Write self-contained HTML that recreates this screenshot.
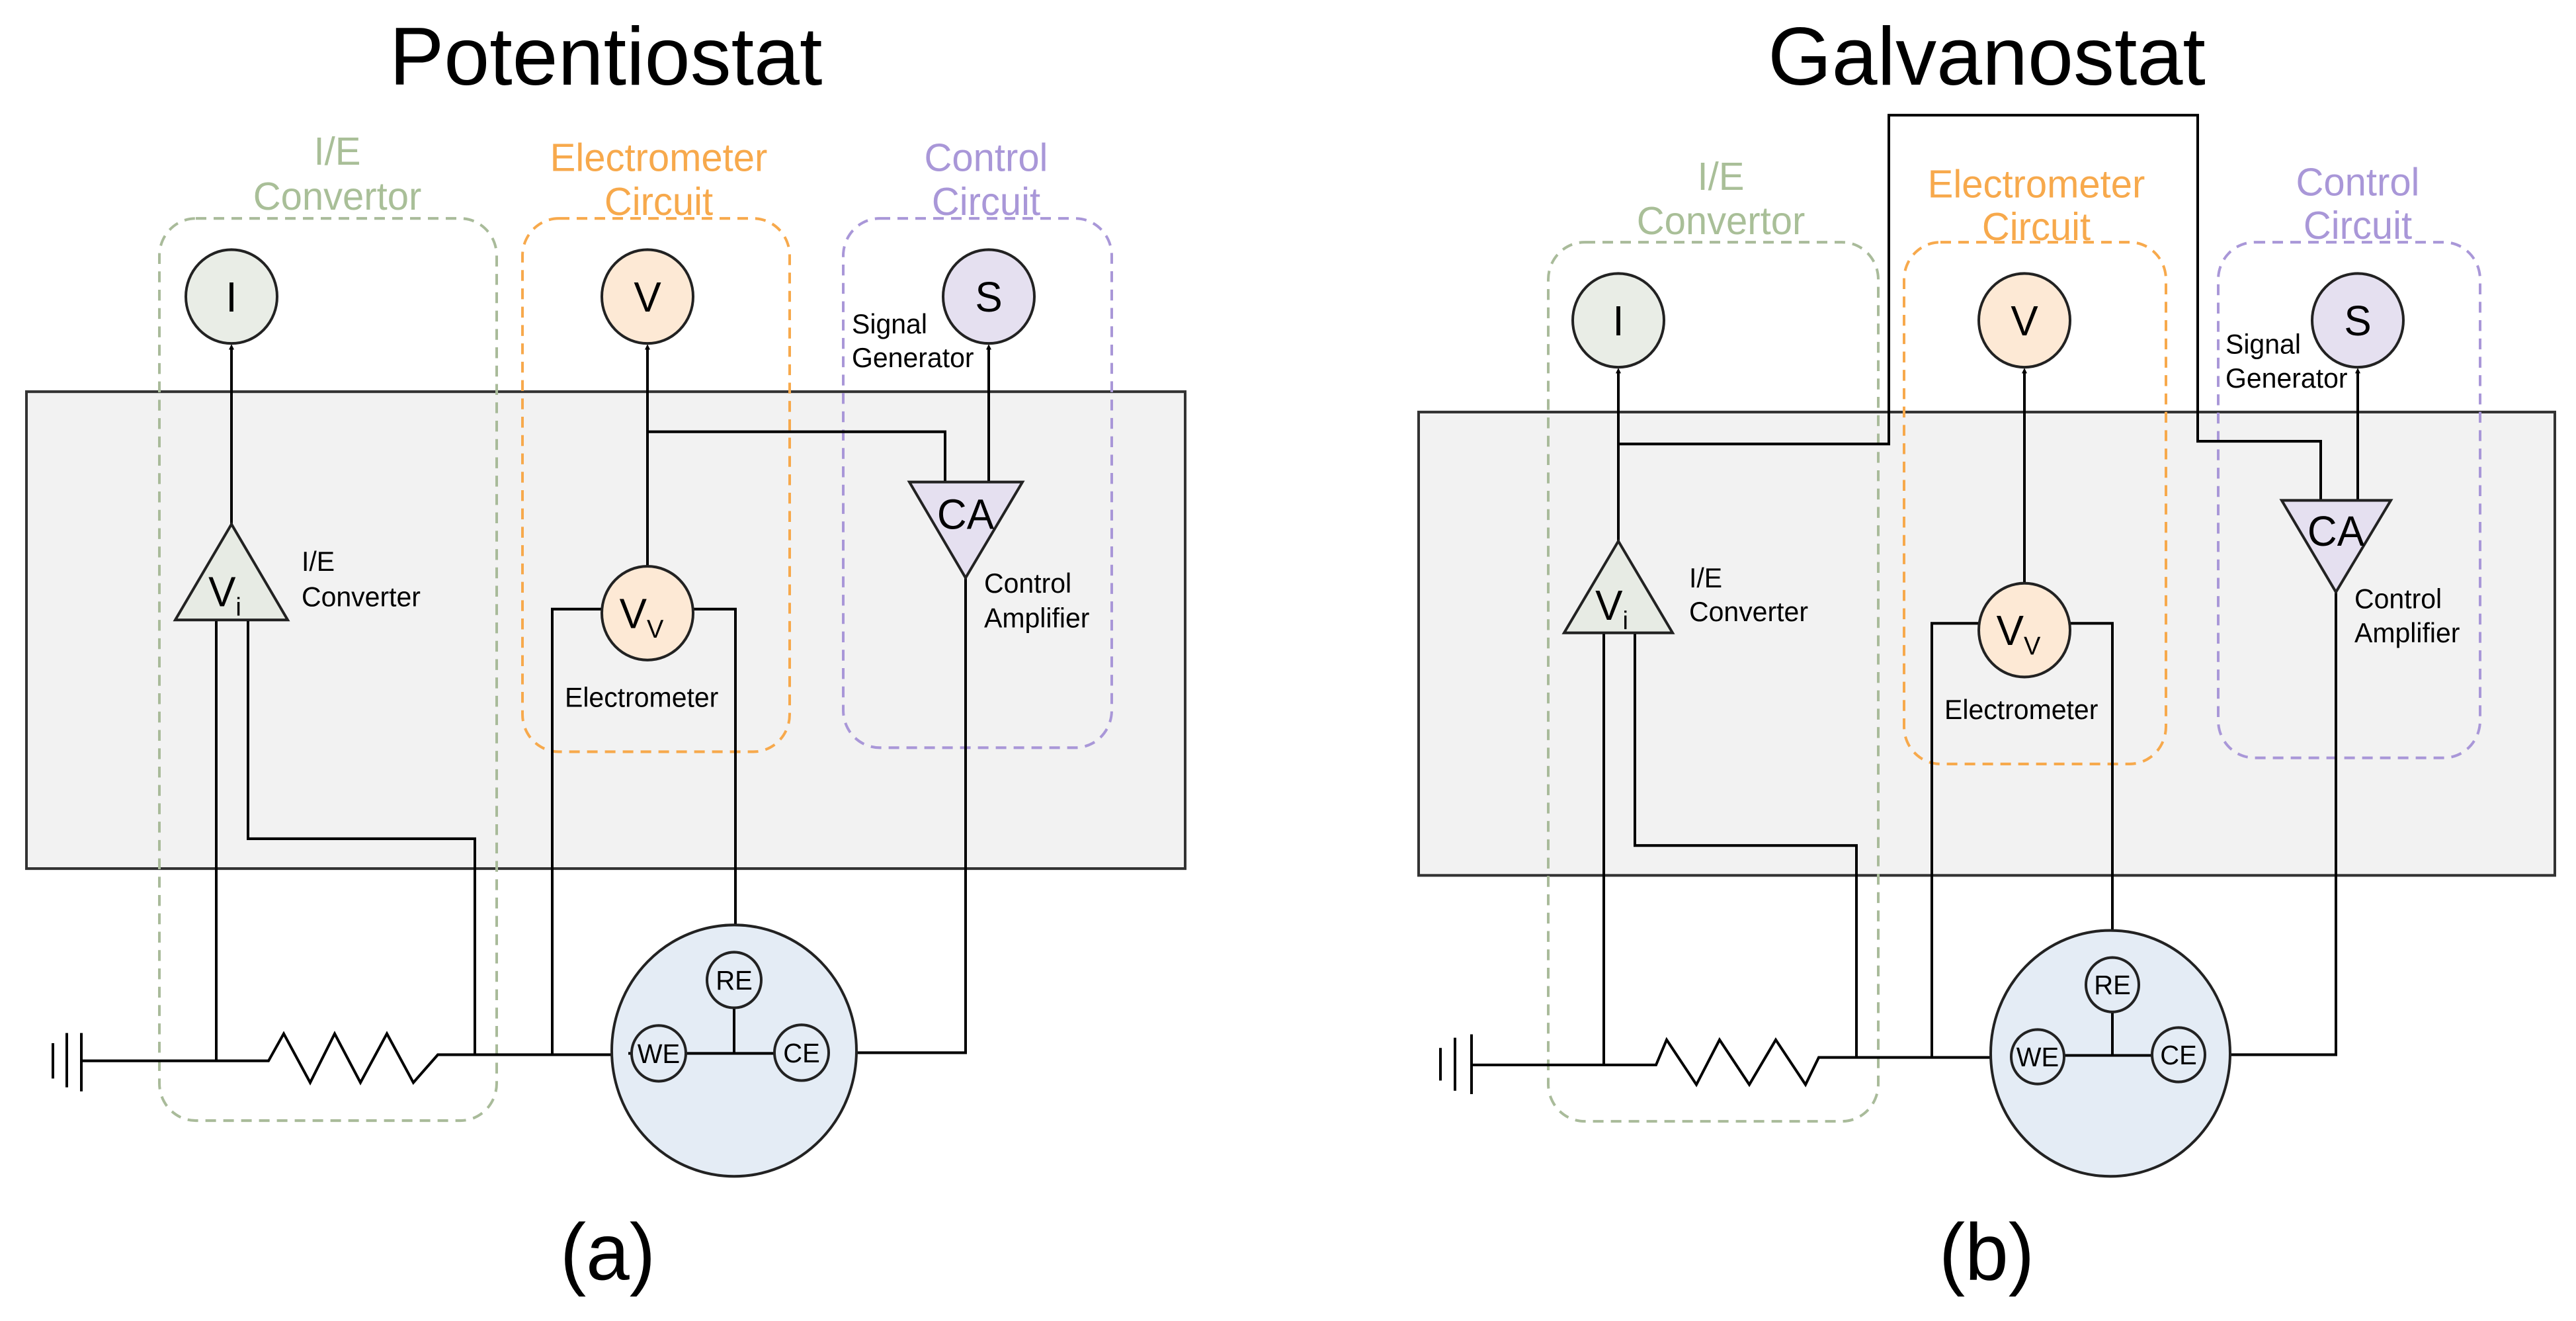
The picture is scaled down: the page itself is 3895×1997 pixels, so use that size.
<!DOCTYPE html>
<html><head><meta charset="utf-8"><style>
html,body{margin:0;padding:0;background:#fff}
svg{display:block}
text{font-family:"Liberation Sans",Arial,sans-serif}
</style></head><body>
<svg width="3895" height="1997" viewBox="0 0 3895 1997" xmlns="http://www.w3.org/2000/svg">
<defs>
<marker id="ar" markerWidth="8" markerHeight="8" refX="4" refY="4" orient="auto" markerUnits="userSpaceOnUse" viewBox="0 0 8 8">
<path d="M0,0 L8,4 L0,8 z" fill="#000"/>
</marker>
</defs>
<text x="916" y="128" font-size="124" text-anchor="middle">Potentiostat</text>
<text x="3004" y="128" font-size="124" text-anchor="middle">Galvanostat</text>
<g transform="translate(0,-9.7) scale(1,1.027)">
<!-- ============ LEFT PANEL ============ -->
<rect x="40" y="586" width="1752" height="702" fill="#f2f2f2" stroke="#333" stroke-width="4"/>
<rect x="241" y="331" width="510" height="1328" rx="55" fill="none" stroke="#a9bb9a" stroke-width="4" stroke-dasharray="16,11"/>
<rect x="790" y="331" width="404" height="785" rx="55" fill="none" stroke="#f7a94c" stroke-width="4" stroke-dasharray="16,11"/>
<rect x="1275" y="331" width="406" height="779" rx="55" fill="none" stroke="#a997d8" stroke-width="4" stroke-dasharray="16,11"/>
<g font-size="58" text-anchor="middle">
<text x="510" y="252" fill="#a9bf98">I/E</text>
<text x="510" y="318" fill="#a9bf98">Convertor</text>
<text x="996" y="261" fill="#f7a94c">Electrometer</text>
<text x="996" y="326" fill="#f7a94c">Circuit</text>
<text x="1491" y="261" fill="#a997d8">Control</text>
<text x="1491" y="326" fill="#a997d8">Circuit</text>
</g>
<g fill="none" stroke="#000" stroke-width="4">
<polyline points="350,781 350,520" marker-end="url(#ar)"/>
<polyline points="327,922 327,1571"/>
<polyline points="375,922 375,1244 718,1244 718,1562"/>
<polyline points="125,1571 406,1571 429,1531 469,1603 506,1531 545,1603 585,1531 625,1603 662,1562 1000,1562"/>
<polyline points="979,843 979,520" marker-end="url(#ar)"/>
<polyline points="979,645 1429,645 1429,719"/>
<polyline points="910,906 835,906 835,1562"/>
<polyline points="1048,906 1112,906 1112,1411"/>
<polyline points="1495,719 1495,520" marker-end="url(#ar)"/>
<polyline points="1460,860 1460,1559 1253,1559"/>
<line x1="80" y1="1545" x2="80" y2="1597"/>
<line x1="101" y1="1530" x2="101" y2="1610"/>
<line x1="123" y1="1530" x2="123" y2="1616"/>
</g>
<g stroke="#222" stroke-width="4">
<circle cx="350" cy="446" r="69" fill="#e9ede6"/>
<circle cx="979" cy="446" r="69" fill="#fde9d5"/>
<circle cx="1495" cy="446" r="69" fill="#e5e0f0"/>
<polygon points="350,781 265,922 435,922" fill="#e7ebe4"/>
<circle cx="979" cy="912" r="69" fill="#fde9d5"/>
<polygon points="1375,719 1546,719 1460,860" fill="#e5e0f0"/>
<circle cx="1110" cy="1556" r="185" fill="#e4ecf5"/>
</g>
<g fill="none" stroke="#000" stroke-width="4">
<polyline points="1110,1493 1110,1560"/>
<polyline points="950,1560 1171,1560"/>
</g>
<g stroke="#222" stroke-width="4" fill="#e4ecf5">
<circle cx="1110" cy="1452" r="41"/>
<circle cx="996" cy="1560" r="41"/>
<circle cx="1212" cy="1559" r="41"/>
</g>
<g font-size="62" text-anchor="middle">
<text x="350" y="468">I</text>
<text x="979" y="468">V</text>
<text x="1495" y="468">S</text>
<text x="1460" y="788">CA</text>
<text x="340" y="902">V<tspan font-size="38" dy="14">i</tspan></text>
<text x="970" y="934">V<tspan font-size="38" dy="14">V</tspan></text>
</g>
<g font-size="40" text-anchor="middle">
<text x="1110" y="1466">RE</text>
<text x="996" y="1574">WE</text>
<text x="1212" y="1573">CE</text>
</g>
<g font-size="41">
<text x="456" y="850">I/E</text>
<text x="456" y="902">Converter</text>
<text x="854" y="1050">Electrometer</text>
<text x="1288" y="500">Signal</text>
<text x="1288" y="550">Generator</text>
<text x="1488" y="882">Control</text>
<text x="1488" y="933">Amplifier</text>
</g>
<text x="919" y="1893" font-size="118" text-anchor="middle">(a)</text>

<!-- ============ RIGHT PANEL ============ -->
<rect x="2145" y="616" width="1718" height="682" fill="#f2f2f2" stroke="#333" stroke-width="4"/>
<rect x="2341" y="366" width="499" height="1294" rx="55" fill="none" stroke="#a9bb9a" stroke-width="4" stroke-dasharray="16,11"/>
<rect x="2879" y="366" width="396" height="768" rx="55" fill="none" stroke="#f7a94c" stroke-width="4" stroke-dasharray="16,11"/>
<rect x="3354" y="366" width="396" height="759" rx="55" fill="none" stroke="#a997d8" stroke-width="4" stroke-dasharray="16,11"/>
<g font-size="58" text-anchor="middle">
<text x="2602" y="289" fill="#a9bf98">I/E</text>
<text x="2602" y="354" fill="#a9bf98">Convertor</text>
<text x="3079" y="300" fill="#f7a94c">Electrometer</text>
<text x="3079" y="363" fill="#f7a94c">Circuit</text>
<text x="3565" y="297" fill="#a997d8">Control</text>
<text x="3565" y="361" fill="#a997d8">Circuit</text>
</g>
<g fill="none" stroke="#000" stroke-width="4">
<polyline points="2448,663 2856,663 2856,179 3323,179 3323,659 3509,659 3509,746"/>
<polyline points="2447,806 2447,555" marker-end="url(#ar)"/>
<polyline points="2425,941 2425,1577"/>
<polyline points="2472,941 2472,1254 2807,1254 2807,1566"/>
<polyline points="2227,1577 2504,1577 2520,1540 2565,1606 2600,1540 2645,1606 2685,1540 2730,1606 2750,1566 3040,1566"/>
<polyline points="3061,868 3061,555" marker-end="url(#ar)"/>
<polyline points="2992,927 2921,927 2921,1566"/>
<polyline points="3130,927 3194,927 3194,1419"/>
<polyline points="3565,746 3565,555" marker-end="url(#ar)"/>
<polyline points="3532,881 3532,1562 3335,1562"/>
<line x1="2178" y1="1552" x2="2178" y2="1600"/>
<line x1="2200" y1="1537" x2="2200" y2="1615"/>
<line x1="2225" y1="1532" x2="2225" y2="1620"/>
</g>
<g stroke="#222" stroke-width="4">
<circle cx="2447" cy="481" r="69" fill="#e9ede6"/>
<circle cx="3061" cy="481" r="69" fill="#fde9d5"/>
<circle cx="3565" cy="481" r="69" fill="#e5e0f0"/>
<polygon points="2447,806 2365,941 2529,941" fill="#e7ebe4"/>
<circle cx="3061" cy="937" r="69" fill="#fde9d5"/>
<polygon points="3450,746 3615,746 3532,881" fill="#e5e0f0"/>
<circle cx="3191" cy="1560" r="181" fill="#e4ecf5"/>
</g>
<g fill="none" stroke="#000" stroke-width="4">
<polyline points="3194,1499 3194,1563"/>
<polyline points="3081,1563 3294,1563"/>
</g>
<g stroke="#222" stroke-width="4" fill="#e4ecf5">
<circle cx="3194" cy="1459" r="40"/>
<circle cx="3081" cy="1565" r="40"/>
<circle cx="3294" cy="1562" r="40"/>
</g>
<g font-size="62" text-anchor="middle">
<text x="2447" y="503">I</text>
<text x="3061" y="503">V</text>
<text x="3565" y="503">S</text>
<text x="3532" y="813">CA</text>
<text x="2437" y="922">V<tspan font-size="38" dy="14">i</tspan></text>
<text x="3052" y="959">V<tspan font-size="38" dy="14">V</tspan></text>
</g>
<g font-size="40" text-anchor="middle">
<text x="3194" y="1473">RE</text>
<text x="3081" y="1579">WE</text>
<text x="3294" y="1576">CE</text>
</g>
<g font-size="41">
<text x="2554" y="874">I/E</text>
<text x="2554" y="924">Converter</text>
<text x="2940" y="1068">Electrometer</text>
<text x="3365" y="530">Signal</text>
<text x="3365" y="580">Generator</text>
<text x="3560" y="905">Control</text>
<text x="3560" y="955">Amplifier</text>
</g>
<text x="3004" y="1893" font-size="118" text-anchor="middle">(b)</text>
</g>
</svg>
</body></html>
